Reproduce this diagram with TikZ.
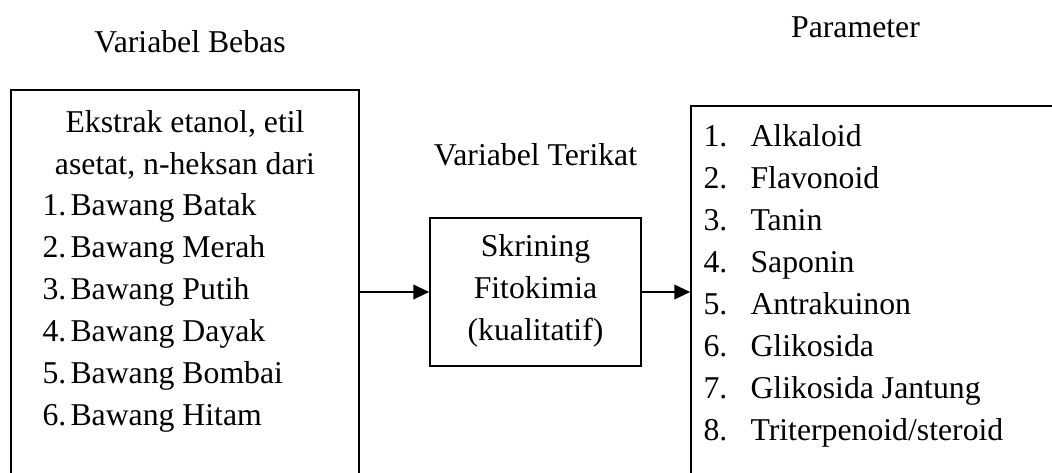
\documentclass[tikz,border=0pt]{standalone}
\usepackage{fontspec}
\setmainfont{Liberation Serif}
\usepackage{tikz}
\usetikzlibrary{calc, fit, positioning, arrows.meta}

\begin{document}
\begin{tikzpicture}[x=0.378pt,y=-0.378pt,
                    font=\fontsize{12}{15}\selectfont,
                    box/.style={draw,line width=0.6pt,inner sep=0pt},
                    txt/.style={inner sep=0pt,anchor=base west},
                    ctxt/.style={inner sep=0pt,anchor=base},
                    arrow/.style={-{Triangle[length=6pt,width=5.5pt]},line width=0.8pt}]
 \useasboundingbox (0,0) rectangle (1052,473);
 \clip (0,0) rectangle (1052,473);

%Boxes
 \node[box,fit={(11,90) (359,520)}] (bebas) {};
 \node[box,fit={(430,218) (641,366)}] (proses) {};
 \node[box,fit={(691,106) (1080,520)}] (param) {};

%Titles
 \node[ctxt] (TitleBebas) at (190,52) {Variabel Bebas};
 \node[ctxt] (TitleTerikat) at (535.5,165) {Variabel Terikat};
 \node[ctxt] (TitleParam) at (855.5,37) {Parameter};

%Left box text
 \node[ctxt] (Head1) at (185,132) {Ekstrak etanol, etil};
 \node[ctxt] (Head2) at (185,174) {asetat, n-heksan dari};

 \foreach \i/\name in {1/Batak,2/Merah,3/Putih,4/Dayak,5/Bombai,6/Hitam}
   {\pgfmathsetmacro{\yy}{215+42*(\i-1)}
    \node[txt] (Num\i) at (42,\yy) {\i.};
    \node[txt] (Bawang\i) at (70,\yy) {Bawang \name};}

%Middle box text
 \foreach \i/\line in {1/Skrining,2/Fitokimia,3/(kualitatif)}
   {\pgfmathsetmacro{\yy}{256+42*(\i-1)}
    \node[ctxt] (Proses\i) at (535.5,\yy) {\line};}

%Right box text
 \foreach \i/\name in {1/Alkaloid,2/Flavonoid,3/Tanin,4/Saponin,5/Antrakuinon,
                       6/Glikosida,7/Glikosida Jantung,8/{Triterpenoid/steroid}}
   {\pgfmathsetmacro{\yy}{146+42*(\i-1)}
    \node[txt] (ParNum\i) at (703,\yy) {\i.};
    \node[txt] (Par\i) at (750,\yy) {\name};}

%Arrows
 \draw[arrow] (proses.west -| bebas.east) -- (proses.west);
 \draw[arrow] (proses.east) -- (proses.east -| param.west);

\end{tikzpicture}
\end{document}
